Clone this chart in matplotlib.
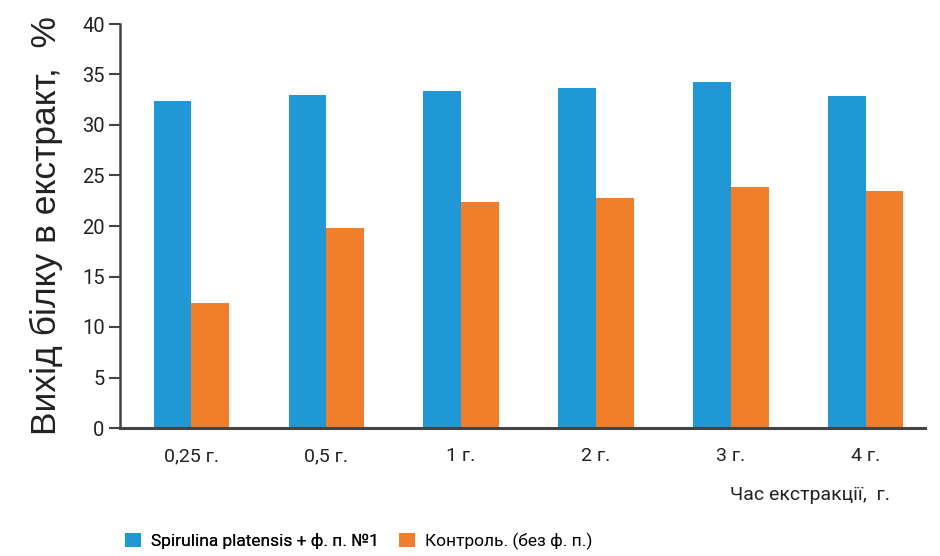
import numpy as np
import matplotlib
matplotlib.use("Agg")
import matplotlib.pyplot as plt

# Дані з графіка
categories = ["0,25 г.", "0,5 г.", "1 г.", "2 г.", "3 г.", "4 г."]
spirulina = [32.4, 33.0, 33.4, 33.7, 34.3, 32.9]
control = [12.4, 19.8, 22.4, 22.8, 23.9, 23.5]

series_names = ["Spirulina platensis + ф. п. №1", "Контроль. (без ф. п.)"]
colors = ["#1f98d5", "#f07e2a"]

plt.rcParams['font.family'] = ['Roboto', 'DejaVu Sans']

fig = plt.figure(figsize=(9.4, 5.56), dpi=100)
ax = fig.add_axes([120 / 940, 1 - 428 / 556, 805 / 940, 404 / 556])

x = np.arange(len(categories))
w = 0.28
b1 = ax.bar(x - w / 2, spirulina, w, color=colors[0], label=series_names[0])
b2 = ax.bar(x + w / 2, control, w, color=colors[1], label=series_names[1])

ax.set_ylim(0, 40)
ax.set_xlim(-0.53, 5.44)
ax.set_yticks(range(0, 41, 5))
ax.set_xticks(x)
ax.set_xticklabels(categories, fontsize=14, color="#222222")
ax.tick_params(axis='x', length=0, pad=14)
ax.tick_params(axis='y', length=8, width=1.5, color="#444444", labelsize=14.5, labelcolor="#222222", pad=3)

for s in ['top', 'right']:
    ax.spines[s].set_visible(False)
ax.spines['left'].set_linewidth(1.8)
ax.spines['bottom'].set_linewidth(2.2)
ax.spines['left'].set_color("#444444")
ax.spines['bottom'].set_color("#444444")

ax.set_ylabel("Вихід білку в екстракт,  %", fontsize=25.5, color="#222222",
              family=['Liberation Sans', 'DejaVu Sans'])
ax.yaxis.set_label_coords(-57 / 805, 0.5)

fig.text(890 / 940, 1 - 495 / 556, "Час екстракції,  г.", ha='right', va='center',
         fontsize=14, color="#222222")

# легенда: два окремі елементи
leg_kw = dict(loc='center left', frameon=False, handlelength=0.9,
              handleheight=0.9, handletextpad=0.6, borderaxespad=0,
              prop={'size': 12.5})
leg1 = fig.legend(handles=[b1], labels=[series_names[0]],
                  bbox_to_anchor=(118 / 940, 1 - 541 / 556), **leg_kw)
fig.add_artist(leg1)
fig.legend(handles=[b2], labels=[series_names[1]],
           bbox_to_anchor=(392 / 940, 1 - 541 / 556), **leg_kw)

fig.savefig("out.png", dpi=100)
